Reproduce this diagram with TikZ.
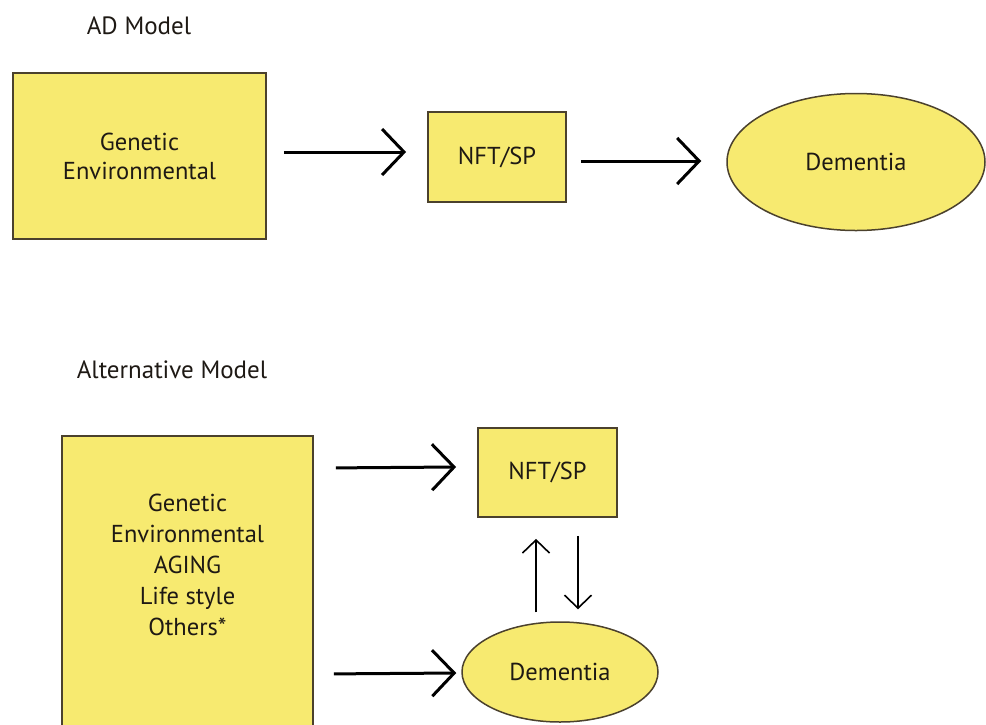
\documentclass[tikz,border=0pt]{standalone}
\usepackage{fontspec}
\setmainfont{PT Sans}
\usetikzlibrary{arrows.meta,shapes.geometric}
\definecolor{boxfill}{RGB}{247,234,112}
\definecolor{boxline}{RGB}{75,65,45}
\definecolor{txt}{RGB}{30,25,20}
\tikzset{
  box/.style={draw=boxline, fill=boxfill, line width=1.8pt, rectangle, inner sep=0pt, align=center, text=txt, font=\fontsize{24.5}{29}\selectfont},
  oval/.style={draw=boxline, fill=boxfill, line width=1.5pt, ellipse, inner sep=0pt, align=center, text=txt, font=\fontsize{24.5}{29}\selectfont},
  lbl/.style={font=\fontsize{25}{30}\selectfont, inner sep=0pt, text=txt},
  arr/.style={line width=3pt, -{Straight Barb[length=22pt, width=46pt, line width=3pt]}},
  thinarr/.style={line width=1.6pt, -{Straight Barb[length=13pt, width=27pt, line width=1.6pt]}}
}
\begin{document}
\begin{tikzpicture}[x=1pt,y=-1pt]
\useasboundingbox (0,0) rectangle (986,724);
\clip (0,0) rectangle (986,724);
\node[lbl] (tad) at (139,26) {AD Model};
\node[box, minimum width=253pt, minimum height=166pt] (g1) at (139.5,156) {Genetic\\Environmental};
\node[box, minimum width=138pt, minimum height=90pt] (n1) at (497,157) {NFT/SP};
\node[oval, minimum width=258pt, minimum height=137pt] (d1) at (856,162) {Dementia};
\draw[arr] ([xshift=17pt,yshift=4pt]g1.east) -- ([xshift=-21pt,yshift=5pt]n1.west);
\draw[arr] ([xshift=14pt,yshift=-4pt]n1.east) -- ([xshift=-25pt,yshift=1pt]d1.west);

\node[lbl] (talt) at (172,370) {Alternative Model};
\node[box, minimum width=251pt, minimum height=330pt, anchor=north] (g2) at (187.5,435) {};
\node[lbl, align=center, font=\fontsize{24.5}{31}\selectfont] (g2t) at (187.5,565) {Genetic\\Environmental\\AGING\\Life style\\Others*};
\node[box, minimum width=139pt, minimum height=89pt] (n2) at (547.5,472.5) {NFT/SP};
\node[oval, minimum width=196pt, minimum height=100pt] (d2) at (560,672) {Dementia};
\draw[arr] ([xshift=22pt,yshift=133pt]g2.east) -- ([xshift=-21pt,yshift=5.5pt]n2.west);
\draw[arr] ([xshift=20pt,yshift=-73pt]g2.east) -- ([xshift=-5pt,yshift=-1pt]d2.west);
\draw[thinarr] ([xshift=-24pt,yshift=9pt]d2.north) -- ([xshift=-11.5pt,yshift=-21pt]n2.south);
\draw[thinarr] ([xshift=30.5pt,yshift=-18pt]n2.south) -- ([xshift=18pt,yshift=12pt]d2.north);
\end{tikzpicture}
\end{document}
